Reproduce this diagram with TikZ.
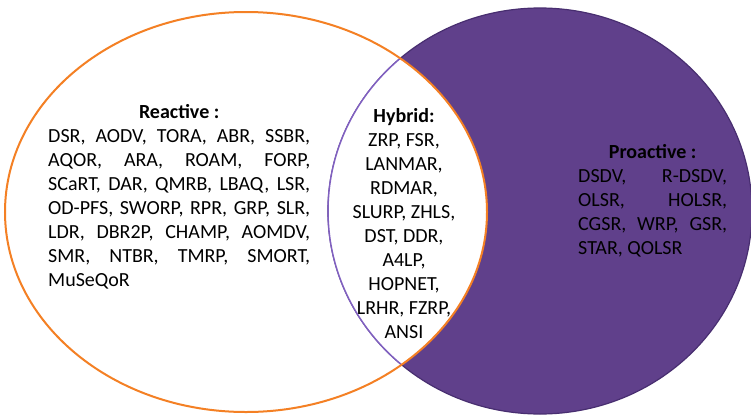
\documentclass[tikz,border=0pt]{standalone}
\usepackage{fontspec}
\setmainfont{Carlito}
\definecolor{vorange}{RGB}{244,128,36}
\definecolor{vpurple}{RGB}{96,64,139}
\definecolor{vpurpledark}{RGB}{72,46,112}
\definecolor{vpurplelight}{RGB}{128,96,192}
\tikzset{
  blocktext/.style={inner sep=0pt, font=\fontsize{20}{24.1}\selectfont, text=black},
}
\newcommand{\jline}[2]{\makebox[#1][s]{#2}}
\begin{document}
\begin{tikzpicture}[x=1pt,y=-1pt]
\useasboundingbox (0,0) rectangle (751,415);
\fill[white] (0,0) rectangle (751,415);
% right (proactive) ellipse
\fill[vpurple] (540,211) ellipse [x radius=212pt, y radius=203pt];
\draw[vpurpledark, line width=1.2pt] (540,211) ellipse [x radius=212pt, y radius=203pt];
% intersection (hybrid)
\begin{scope}
  \clip (246,212) ellipse [x radius=241pt, y radius=200pt];
  \fill[white] (540,211) ellipse [x radius=212pt, y radius=203pt];
  \draw[vpurplelight, line width=1.5pt] (540,211) ellipse [x radius=212pt, y radius=203pt];
\end{scope}
% left (reactive) ellipse border
\draw[vorange, line width=2pt] (246,212) ellipse [x radius=241pt, y radius=200pt];

\node[blocktext, anchor=base west] (reactive) at (48,118) {%
\begin{tabular}[t]{@{}l@{}}
\makebox[262pt][c]{\bfseries Reactive :}\\
\jline{262pt}{DSR, AODV, TORA, ABR, SSBR,}\\
\jline{262pt}{AQOR, ARA, ROAM, FORP,}\\
\jline{262pt}{SCaRT, DAR, QMRB, LBAQ, LSR,}\\
\jline{262pt}{OD-PFS, SWORP, RPR, GRP, SLR,}\\
\jline{262pt}{LDR, DBR2P, CHAMP, AOMDV,}\\
\jline{262pt}{SMR, NTBR, TMRP, SMORT,}\\
MuSeQoR
\end{tabular}};

\node[blocktext, anchor=base] (hybrid) at (404,122) {%
\begin{tabular}[t]{@{}c@{}}
\bfseries Hybrid:\\
ZRP, FSR,\\
LANMAR,\\
RDMAR,\\
SLURP, ZHLS,\\
DST, DDR,\\
A4LP,\\
HOPNET,\\
LRHR, FZRP,\\
ANSI
\end{tabular}};

\node[blocktext, anchor=base west] (proactive) at (578,158) {%
\begin{tabular}[t]{@{}l@{}}
\makebox[149pt][c]{\bfseries Proactive :}\\
\jline{149pt}{DSDV, R-DSDV,}\\
\jline{149pt}{OLSR, HOLSR,}\\
\jline{149pt}{CGSR, WRP, GSR,}\\
STAR, QOLSR
\end{tabular}};
\end{tikzpicture}
\end{document}
